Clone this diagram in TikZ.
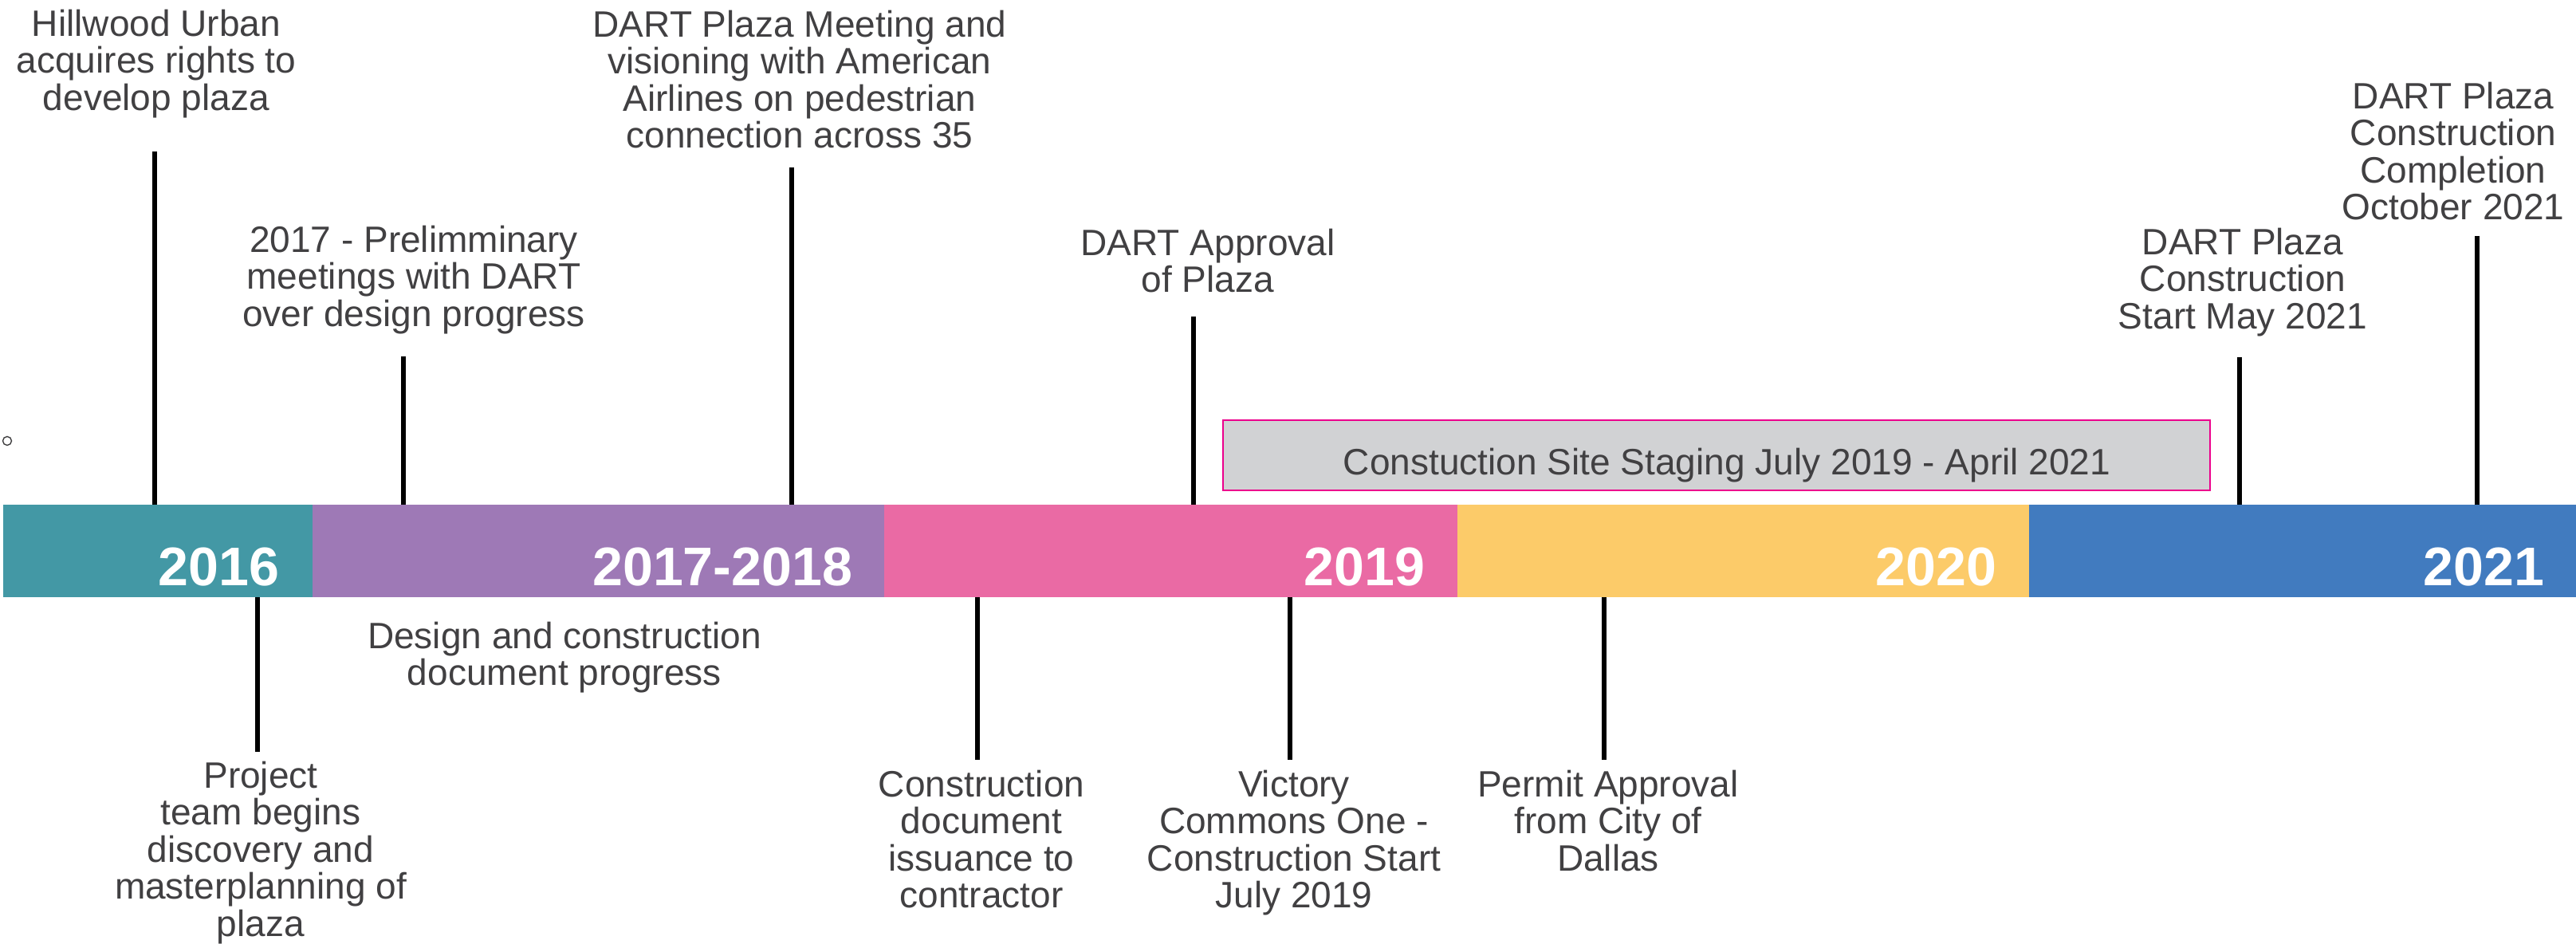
\documentclass[tikz,border=0pt]{standalone}
\usepackage{fontspec}
\setmainfont{Liberation Sans}
\usepackage{tikz}
\definecolor{txtgrey}{HTML}{414042}
\definecolor{c2016}{HTML}{4398A5}
\definecolor{c2017}{HTML}{9E79B6}
\definecolor{c2019}{HTML}{EA6AA4}
\definecolor{c2020}{HTML}{FCCB69}
\definecolor{c2021}{HTML}{417BBF}
\definecolor{stagegrey}{HTML}{D1D2D4}
\definecolor{stagepink}{HTML}{EC008C}

\begin{document}
\begin{tikzpicture}[
  seg/.style={rectangle, inner sep=0, outer sep=0, anchor=south west, minimum height=1.16cm},
  yearlbl/.style={anchor=base east, inner sep=0, text=white, font=\fontsize{19.4}{20}\selectfont\bfseries},
  event/.style={anchor=north, align=center, inner sep=0, text=txtgrey, font=\fontsize{13.1}{13.23}\selectfont},
  tick/.style={line width=1.7pt, black}]
\useasboundingbox (0,0) rectangle (32.31,11.83);
\node [seg, fill=c2016, minimum width=3.895cm] (s2016) at (0.035,4.34) {};
\node [seg, fill=c2017, minimum width=7.18cm] (s2017) at (3.92,4.34) {};
\node [seg, fill=c2019, minimum width=7.20cm] (s2019) at (11.09,4.34) {};
\node [seg, fill=c2020, minimum width=7.18cm] (s2020) at (18.28,4.34) {};
\node [seg, fill=c2021, minimum width=6.86cm] (s2021) at (25.45,4.34) {};
\node [yearlbl] (y2016) at (3.51,4.49) {2016};
\node [yearlbl] (y2017) at (10.70,4.49) {2017-2018};
\node [yearlbl] (y2019) at (17.88,4.49) {2019};
\node [yearlbl] (y2020) at (25.05,4.49) {2020};
\node [yearlbl] (y2021) at (31.92,4.49) {2021};
\node [rectangle, fill=stagegrey, draw=stagepink, line width=0.5pt, inner sep=0, minimum width=12.38cm, minimum height=0.88cm] (staging) at (21.53,6.12) {};
\node [event, anchor=base] (stagetext) at (21.66,5.88) {Constuction Site Staging July 2019 - April 2021};
\node [event] (hillwood) at (1.96,11.72) {Hillwood Urban\\acquires rights to\\develop plaza};
\node [event] (prelim) at (5.19,9.01) {2017 - Prelimminary\\meetings with DART\\over design progress};
\node [event] (meeting) at (10.03,11.71) {DART Plaza Meeting and\\visioning with American\\Airlines on pedestrian\\connection across 35};
\node [event] (approval) at (15.15,8.97) {DART Approval\\of Plaza};
\node [event] (start) at (28.13,8.98) {DART Plaza\\Construction\\Start May 2021};
\node [event] (complete) at (30.77,10.81) {DART Plaza\\Construction\\Completion\\October 2021};
\node [event] (team) at (3.27,2.29) {Project\\team begins\\discovery and\\masterplanning of\\plaza};
\node [event] (design) at (7.08,4.04) {Design and construction\\document progress};
\node [event] (issue) at (12.31,2.18) {Construction\\document\\issuance to\\contractor};
\node [event] (victory) at (16.23,2.18) {Victory\\Commons One -\\Construction Start\\July 2019};
\node [event] (permit) at (20.17,2.18) {Permit Approval\\from City of\\Dallas};
\node [circle, draw=txtgrey, line width=0.4pt, inner sep=0, minimum size=0.11cm] (dot) at (0.09,6.30) {};
\coordinate (kHill) at (1.94,9.93);
\coordinate (kPrelim) at (5.06,7.36);
\coordinate (kMeet) at (9.93,9.73);
\coordinate (kAppr) at (14.97,7.86);
\coordinate (kStart) at (28.09,7.35);
\coordinate (kDone) at (31.07,8.87);
\coordinate (kTeam) at (3.23,2.40);
\coordinate (kIssue) at (12.26,2.30);
\coordinate (kVictory) at (16.18,2.30);
\coordinate (kPermit) at (20.12,2.30);
\draw [tick] (kHill) -- (kHill |- s2016.north);
\draw [tick] (kPrelim) -- (kPrelim |- s2017.north);
\draw [tick] (kMeet) -- (kMeet |- s2017.north);
\draw [tick] (kAppr) -- (kAppr |- s2019.north);
\draw [tick] (kStart) -- (kStart |- s2021.north);
\draw [tick] (kDone) -- (kDone |- s2021.north);
\draw [tick] (kTeam) -- (kTeam |- s2016.south);
\draw [tick] (kIssue) -- (kIssue |- s2019.south);
\draw [tick] (kVictory) -- (kVictory |- s2019.south);
\draw [tick] (kPermit) -- (kPermit |- s2020.south);
\end{tikzpicture}
\end{document}
